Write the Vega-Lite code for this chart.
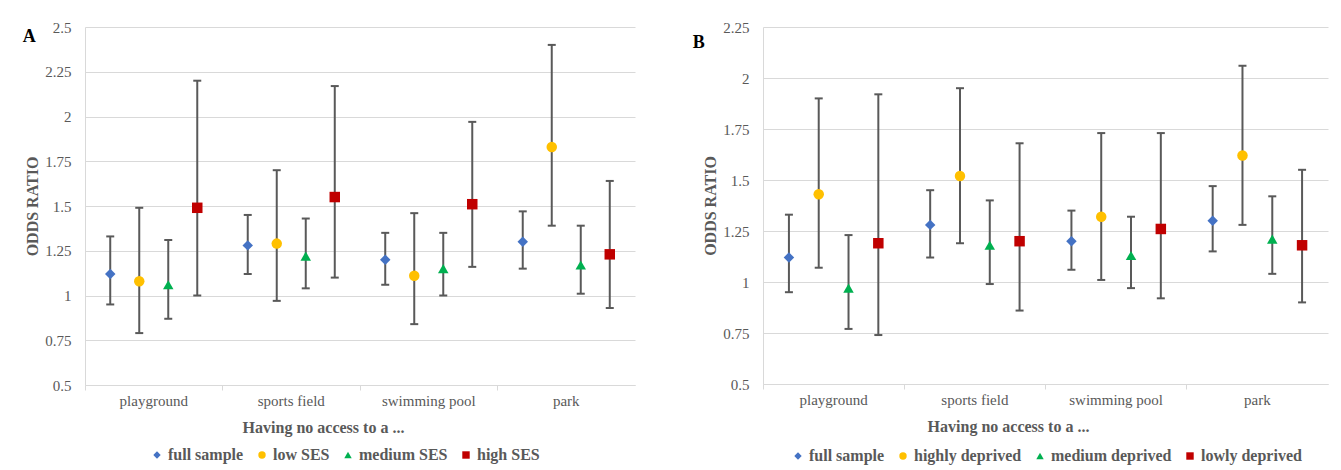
{
  "$schema": "https://vega.github.io/schema/vega-lite/v6.json",
  "background": "white",
  "padding": {"left": 22, "top": 20, "right": 5, "bottom": 5},
  "datasets": {
    "A": [
      {"place": "playground", "group": "full sample", "or": 1.12, "lo": 0.95, "hi": 1.33},
      {"place": "playground", "group": "low SES", "or": 1.08, "lo": 0.79, "hi": 1.49},
      {"place": "playground", "group": "medium SES", "or": 1.06, "lo": 0.87, "hi": 1.31},
      {"place": "playground", "group": "high SES", "or": 1.49, "lo": 1.0, "hi": 2.2},
      {"place": "sports field", "group": "full sample", "or": 1.28, "lo": 1.12, "hi": 1.45},
      {"place": "sports field", "group": "low SES", "or": 1.29, "lo": 0.97, "hi": 1.7},
      {"place": "sports field", "group": "medium SES", "or": 1.22, "lo": 1.04, "hi": 1.43},
      {"place": "sports field", "group": "high SES", "or": 1.55, "lo": 1.1, "hi": 2.17},
      {"place": "swimming pool", "group": "full sample", "or": 1.2, "lo": 1.06, "hi": 1.35},
      {"place": "swimming pool", "group": "low SES", "or": 1.11, "lo": 0.84, "hi": 1.46},
      {"place": "swimming pool", "group": "medium SES", "or": 1.15, "lo": 1.0, "hi": 1.35},
      {"place": "swimming pool", "group": "high SES", "or": 1.51, "lo": 1.16, "hi": 1.97},
      {"place": "park", "group": "full sample", "or": 1.3, "lo": 1.15, "hi": 1.47},
      {"place": "park", "group": "low SES", "or": 1.83, "lo": 1.39, "hi": 2.4},
      {"place": "park", "group": "medium SES", "or": 1.17, "lo": 1.01, "hi": 1.39},
      {"place": "park", "group": "high SES", "or": 1.23, "lo": 0.93, "hi": 1.64}
    ],
    "B": [
      {"place": "playground", "group": "full sample", "or": 1.12, "lo": 0.95, "hi": 1.33},
      {"place": "playground", "group": "highly deprived", "or": 1.43, "lo": 1.07, "hi": 1.9},
      {"place": "playground", "group": "medium deprived", "or": 0.97, "lo": 0.77, "hi": 1.23},
      {"place": "playground", "group": "lowly deprived", "or": 1.19, "lo": 0.74, "hi": 1.92},
      {"place": "sports field", "group": "full sample", "or": 1.28, "lo": 1.12, "hi": 1.45},
      {"place": "sports field", "group": "highly deprived", "or": 1.52, "lo": 1.19, "hi": 1.95},
      {"place": "sports field", "group": "medium deprived", "or": 1.18, "lo": 0.99, "hi": 1.4},
      {"place": "sports field", "group": "lowly deprived", "or": 1.2, "lo": 0.86, "hi": 1.68},
      {"place": "swimming pool", "group": "full sample", "or": 1.2, "lo": 1.06, "hi": 1.35},
      {"place": "swimming pool", "group": "highly deprived", "or": 1.32, "lo": 1.01, "hi": 1.73},
      {"place": "swimming pool", "group": "medium deprived", "or": 1.13, "lo": 0.97, "hi": 1.32},
      {"place": "swimming pool", "group": "lowly deprived", "or": 1.26, "lo": 0.92, "hi": 1.73},
      {"place": "park", "group": "full sample", "or": 1.3, "lo": 1.15, "hi": 1.47},
      {"place": "park", "group": "highly deprived", "or": 1.62, "lo": 1.28, "hi": 2.06},
      {"place": "park", "group": "medium deprived", "or": 1.21, "lo": 1.04, "hi": 1.42},
      {"place": "park", "group": "lowly deprived", "or": 1.18, "lo": 0.9, "hi": 1.55}
    ]
  },
  "bounds": "flush",
  "spacing": 128,
  "resolve": {
    "scale": {"x": "independent", "y": "independent", "xOffset": "independent", "color": "independent", "shape": "independent"},
    "legend": {"color": "independent", "shape": "independent"}
  },
  "hconcat": [
    {
      "width": 550,
      "height": 358,
      "title": {"text": "A", "anchor": "start", "frame": "bounds", "dx": -2, "dy": 30, "font": "Liberation Serif"},
      "data": {"name": "A"},
      "encoding": {
        "x": {"field": "place", "type": "nominal", "sort": ["playground", "sports field", "swimming pool", "park"], "scale": {"paddingInner": 0, "paddingOuter": 0}, "axis": {"title": "Having no access to a ...", "titleX": 238, "labelFont": "Liberation Serif", "titleFont": "Liberation Serif"}},
        "xOffset": {"field": "group", "type": "nominal", "sort": ["full sample", "low SES", "medium SES", "high SES"], "scale": {"paddingInner": 0, "paddingOuter": 0.37}}
      },
      "layer": [
        {"mark": {"type": "rule", "color": "#595959", "strokeWidth": 2}, "encoding": {"y": {"field": "lo", "type": "quantitative", "title": "ODDS RATIO", "scale": {"domain": [0.5, 2.5], "nice": false, "zero": false}, "axis": {"values": [0.5, 0.75, 1, 1.25, 1.5, 1.75, 2, 2.25, 2.5], "labelExpr": "format(datum.value, '~g')", "labelFont": "Liberation Serif", "titleFont": "Liberation Serif"}}, "y2": {"field": "hi"}}},
        {"mark": {"type": "tick", "color": "#595959", "size": 8, "thickness": 2, "opacity": 1}, "encoding": {"y": {"field": "lo", "type": "quantitative", "title": "ODDS RATIO"}}},
        {"mark": {"type": "tick", "color": "#595959", "size": 8, "thickness": 2, "opacity": 1}, "encoding": {"y": {"field": "hi", "type": "quantitative", "title": "ODDS RATIO"}}},
        {"mark": {"type": "point", "filled": true, "opacity": 1, "size": 110}, "encoding": {
          "y": {"field": "or", "type": "quantitative", "title": "ODDS RATIO"},
          "color": {"field": "group", "type": "nominal", "scale": {"domain": ["full sample", "low SES", "medium SES", "high SES"], "range": ["#4472C4", "#FFC000", "#00B050", "#C00000"]}, "legend": {"title": null, "labelFont": "Liberation Serif", "orient": "none", "legendX": 64, "legendY": 420}},
          "shape": {"field": "group", "type": "nominal", "scale": {"domain": ["full sample", "low SES", "medium SES", "high SES"], "range": ["diamond", "circle", "triangle-up", "square"]}, "legend": {"title": null, "labelFont": "Liberation Serif", "orient": "none", "legendX": 64, "legendY": 420}}
        }}
      ]
    },
    {
      "width": 565,
      "height": 357,
      "title": {"text": "B", "anchor": "start", "frame": "bounds", "dx": -10, "dy": 36, "font": "Liberation Serif"},
      "data": {"name": "B"},
      "encoding": {
        "x": {"field": "place", "type": "nominal", "sort": ["playground", "sports field", "swimming pool", "park"], "scale": {"paddingInner": 0, "paddingOuter": 0}, "axis": {"title": "Having no access to a ...", "titleX": 245, "labelFont": "Liberation Serif", "titleFont": "Liberation Serif"}},
        "xOffset": {"field": "group", "type": "nominal", "sort": ["full sample", "highly deprived", "medium deprived", "lowly deprived"], "scale": {"paddingInner": 0, "paddingOuter": 0.37}}
      },
      "layer": [
        {"mark": {"type": "rule", "color": "#595959", "strokeWidth": 2}, "encoding": {"y": {"field": "lo", "type": "quantitative", "title": "ODDS RATIO", "scale": {"domain": [0.5, 2.25], "nice": false, "zero": false}, "axis": {"values": [0.5, 0.75, 1, 1.25, 1.5, 1.75, 2, 2.25], "labelExpr": "format(datum.value, '~g')", "labelFont": "Liberation Serif", "titleFont": "Liberation Serif"}}, "y2": {"field": "hi"}}},
        {"mark": {"type": "tick", "color": "#595959", "size": 8, "thickness": 2, "opacity": 1}, "encoding": {"y": {"field": "lo", "type": "quantitative", "title": "ODDS RATIO"}}},
        {"mark": {"type": "tick", "color": "#595959", "size": 8, "thickness": 2, "opacity": 1}, "encoding": {"y": {"field": "hi", "type": "quantitative", "title": "ODDS RATIO"}}},
        {"mark": {"type": "point", "filled": true, "opacity": 1, "size": 110}, "encoding": {
          "y": {"field": "or", "type": "quantitative", "title": "ODDS RATIO"},
          "color": {"field": "group", "type": "nominal", "scale": {"domain": ["full sample", "highly deprived", "medium deprived", "lowly deprived"], "range": ["#4472C4", "#FFC000", "#00B050", "#C00000"]}, "legend": {"title": null, "labelFont": "Liberation Serif"}},
          "shape": {"field": "group", "type": "nominal", "scale": {"domain": ["full sample", "highly deprived", "medium deprived", "lowly deprived"], "range": ["diamond", "circle", "triangle-up", "square"]}, "legend": {"title": null, "labelFont": "Liberation Serif"}}
        }}
      ]
    }
  ],
  "config": {
    "view": {"stroke": null},
    "font": "Liberation Serif",
    "style": {"guide-label": {"font": "Liberation Serif"}, "guide-title": {"font": "Liberation Serif"}},
    "title": {"font": "Liberation Serif", "fontSize": 18, "fontWeight": "bold", "color": "#000000", "offset": 0},
    "axis": {
      "labelFont": "Liberation Serif", "labelFontSize": 15, "labelColor": "#595959",
      "titleFont": "Liberation Serif", "titleFontSize": 16, "titleFontWeight": "bold", "titleColor": "#595959",
      "gridColor": "#D9D9D9", "domainColor": "#D9D9D9", "tickColor": "#D9D9D9"
    },
    "axisY": {"ticks": false, "labelPadding": 14, "titlePadding": 4, "grid": true, "domain": true},
    "axisX": {"grid": false, "ticks": true, "tickSize": 5, "bandPosition": 0, "labelAngle": 0, "labelPadding": 3, "titlePadding": 11},
    "legend": {
      "orient": "bottom", "direction": "horizontal", "offset": 14, "padding": 0,
      "labelFont": "Liberation Serif", "labelFontSize": 16, "labelFontWeight": "bold", "labelColor": "#595959",
      "symbolSize": 55, "labelOffset": 3, "columnPadding": 10,
      "layout": {"bottom": {"anchor": "middle"}}
    }
  }
}
